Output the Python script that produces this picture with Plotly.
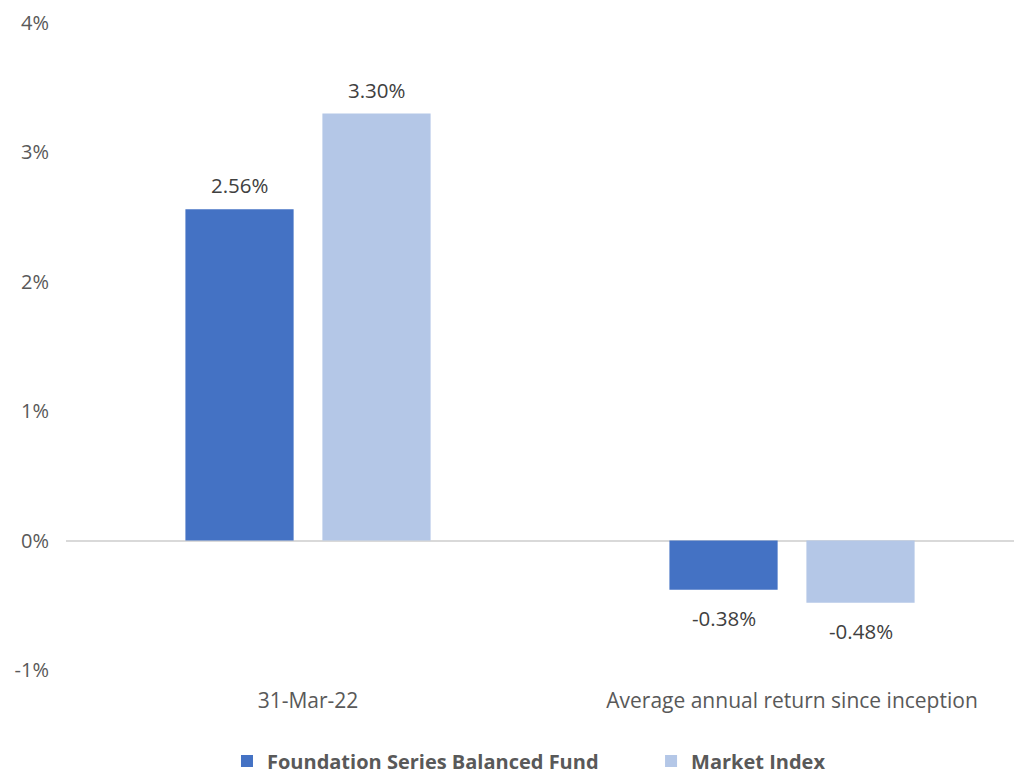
import plotly.graph_objects as go

categories = ["31-Mar-22", "Average annual return since inception"]
fund_values = [2.56, -0.38]
index_values = [3.30, -0.48]
series_names = ["Foundation Series Balanced Fund", "Market Index"]
y_ticks = [-1, 0, 1, 2, 3, 4]
y_tick_text = ["-1%", "0%", "1%", "2%", "3%", "4%"]

FONT = "'Open Sans', sans-serif"
colors = ["#4472C4", "#B4C7E7"]
legend_ids = ["legend", "legend2"]

fig = go.Figure()
for name, vals, col, lg in zip(series_names, [fund_values, index_values], colors, legend_ids):
    fig.add_trace(go.Bar(
        x=categories, y=vals, name=name, legend=lg, showlegend=True,
        marker=dict(color=col, line=dict(width=0)),
    ))

# data labels
offsets = [-68.5, 68.5]
for vals, dx in zip([fund_values, index_values], offsets):
    for cat, v in zip(categories, vals):
        fig.add_annotation(
            x=cat, y=v, xref="x", yref="y", text=f"{v:.2f}%",
            showarrow=False, xshift=dx, yshift=24 if v >= 0 else -28,
            yanchor="middle", xanchor="center",
            font=dict(family=FONT, size=20.5, color="#404040"),
        )

legend_font = dict(family=FONT, size=20, color="#595959", weight="bold")
fig.update_layout(
    width=1022, height=773,
    showlegend=True,
    margin=dict(l=58, r=0, t=15, b=111, autoexpand=False),
    paper_bgcolor="white", plot_bgcolor="white",
    barmode="group", bargap=0.434, bargroupgap=0.21,
    font=dict(family=FONT, size=20, color="#595959"),
    xaxis=dict(
        type="category", range=[-0.5, 1.4917],
        showgrid=False, showline=False, ticks="",
        ticklabelstandoff=16,
        tickfont=dict(family=FONT, size=21, color="#595959"),
    ),
    yaxis=dict(
        range=[-1, 4], tickvals=y_ticks, ticktext=y_tick_text,
        showgrid=False, showline=False, ticks="",
        ticklabelstandoff=16,
        zeroline=True, zerolinecolor="#D9D9D9", zerolinewidth=1.5,
        tickfont=dict(family=FONT, size=20, color="#595959"),
    ),
    legend=dict(
        orientation="h", x=0.167, xanchor="left", y=-0.1406, yanchor="middle",
        font=legend_font, visible=True,
    ),
    legend2=dict(
        orientation="h", x=0.6069, xanchor="left", y=-0.1406, yanchor="middle",
        font=legend_font, visible=True,
    ),
)

fig.write_html("out.html")
